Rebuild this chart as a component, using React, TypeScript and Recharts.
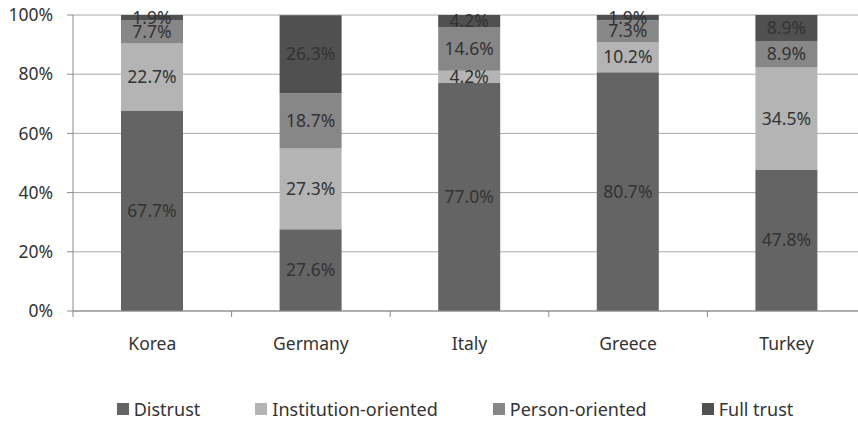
import React from "react";
import {
  BarChart,
  Bar,
  XAxis,
  YAxis,
  CartesianGrid,
  Legend,
  LabelList
} from "recharts";

const countries = ["Korea", "Germany", "Italy", "Greece", "Turkey"];
const distrust = [67.7, 27.6, 77.0, 80.7, 47.8];
const institution = [22.7, 27.3, 4.2, 10.2, 34.5];
const person = [7.7, 18.7, 14.6, 7.3, 8.9];
const fullTrust = [1.9, 26.3, 4.2, 1.9, 8.9];
const yTicks = [0, 20, 40, 60, 80, 100];

const series = [
  { key: "distrust", name: "Distrust", color: "#646464" },
  { key: "institution", name: "Institution-oriented", color: "#b4b4b4" },
  { key: "person", name: "Person-oriented", color: "#878787" },
  { key: "fullTrust", name: "Full trust", color: "#505050" }
];

const data = countries.map((c, i) => ({
  name: c,
  distrust: distrust[i],
  institution: institution[i],
  person: person[i],
  fullTrust: fullTrust[i]
}));

const FONT = "'Noto Sans', sans-serif";

// Excel-style x tick: label in the middle, tick mark on the category boundary
function CategoryTick(props: any) {
  const { x, y, payload } = props;
  const half = payload.offset || 0;
  return (
    <g>
      <line x1={x - half} x2={x - half} y1={y - 8} y2={y - 2} stroke="#8a8a8a" />
      <text
        x={x}
        y={y + 26}
        textAnchor="middle"
        dominantBaseline="middle"
        fontSize={17.5}
        fontFamily={FONT}
        fill="#333"
      >
        {payload.value}
      </text>
    </g>
  );
}

// keep legend in series order (recharts sorts it by name otherwise)
function LegendContent() {
  return (
    <div
      style={{
        display: "flex",
        justifyContent: "center",
        height: 28,
        alignItems: "center",
        fontFamily: FONT,
        fontSize: 18,
        color: "#333",
        gap: 55,
        paddingLeft: 44
      }}
    >
      {series.map((s) => (
        <div key={s.key} style={{ display: "flex", alignItems: "center" }}>
          <span
            style={{
              width: 12,
              height: 12,
              background: s.color,
              display: "inline-block",
              marginRight: 5
            }}
          />
          <span>{s.name}</span>
        </div>
      ))}
    </div>
  );
}

export default function App() {
  return (
    <div
      style={{
        position: "absolute",
        left: 0,
        top: 0,
        width: 858,
        height: 423,
        overflow: "hidden",
        background: "#fff"
      }}
    >
      <BarChart
        width={866}
        height={423}
        data={data}
        margin={{ top: 15, right: 0, left: 0, bottom: 0 }}
      >
        <CartesianGrid vertical={false} stroke="#a8a8a8" />
        <XAxis
          dataKey="name"
          height={84}
          stroke="#8a8a8a"
          tickLine={false}
          tick={<CategoryTick />}
          interval={0}
        />
        <YAxis
          width={73}
          domain={[0, 100]}
          ticks={yTicks}
          allowDataOverflow
          stroke="#8a8a8a"
          tickSize={6}
          tickMargin={14}
          tickFormatter={(v: number) => v + "%"}
          tick={{ fontSize: 17.5, fontFamily: FONT, fill: "#333" }}
        />
        <Legend content={<LegendContent />} verticalAlign="bottom" />
        {series.map((s) => (
          <Bar
            key={s.key}
            dataKey={s.key}
            name={s.name}
            stackId="a"
            fill={s.color}
            barSize={62}
            isAnimationActive={false}
          >
            <LabelList
              dataKey={s.key}
              position="center"
              formatter={(v: number) => v.toFixed(1) + "%"}
              style={{ fontSize: 17.5, fontFamily: FONT, fill: "#333" }}
            />
          </Bar>
        ))}
      </BarChart>
    </div>
  );
}
